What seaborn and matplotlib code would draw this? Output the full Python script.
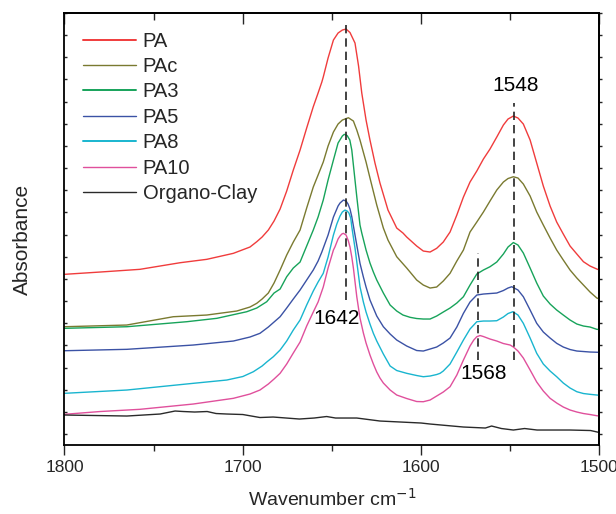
import numpy as np
import pandas as pd
import matplotlib
matplotlib.use("Agg")
import matplotlib.pyplot as plt
import seaborn as sns

# ---------------- data (wavenumber cm-1, absorbance a.u.) ----------------
pa_x = [1800, 1780, 1757.7, 1735.2, 1720.2, 1705.3, 1696.0, 1692.2, 1689.2, 1685.7, 1682.5, 1679.1,
        1675.4, 1671.7, 1667.9, 1664.2, 1660.5, 1657.8, 1655.7, 1654.9, 1652.2, 1649.2, 1646.6, 1644.2,
        1642.1, 1639.9, 1637.1, 1635.1, 1633.3, 1630.9, 1628.7, 1625.9, 1623.1, 1618.6, 1613.7, 1610.2,
        1608.1, 1602.5, 1598.8, 1595.0, 1591.3, 1587.6, 1585.6, 1583.8, 1580.0, 1576.3, 1572.6, 1568.8,
        1565.1, 1561.4, 1557.6, 1553.9, 1551.3, 1548.3, 1545.7, 1542.7, 1538.9, 1535.2, 1531.5, 1527.7,
        1524.0, 1520.3, 1516.5, 1512.7, 1509.0, 1505.3, 1501.5, 1500]
pa_y = [0.1757, 0.178, 0.1807, 0.1873, 0.1907, 0.1967, 0.203, 0.2083, 0.213, 0.220, 0.229, 0.241,
        0.259, 0.280, 0.300, 0.322, 0.3433, 0.357, 0.368, 0.373, 0.392, 0.410, 0.417, 0.420,
        0.421, 0.4175, 0.407, 0.384, 0.357, 0.330, 0.310, 0.287, 0.267, 0.240, 0.222, 0.217,
        0.213, 0.204, 0.199, 0.198, 0.2017, 0.208, 0.2133, 0.218, 0.235, 0.253, 0.268, 0.279,
        0.291, 0.301, 0.313, 0.325, 0.331, 0.334, 0.332, 0.326, 0.310, 0.287, 0.264, 0.244,
        0.228, 0.216, 0.204, 0.196, 0.1883, 0.184, 0.181, 0.180]

pac_x = [1800, 1765.1, 1739, 1720.2, 1703.4, 1696.0, 1692.2, 1689.2, 1685.7, 1682.5, 1679.1, 1675.4,
         1671.7, 1667.9, 1664.2, 1660.5, 1657.8, 1654.9, 1652.2, 1649.2, 1646.6, 1644.2, 1640.8, 1638.0,
         1636.1, 1634.3, 1630.9, 1628.7, 1624.9, 1621.2, 1618.6, 1613.7, 1608.1, 1602.5, 1598.8, 1595.0,
         1591.3, 1587.6, 1583.8, 1580.0, 1576.3, 1572.6, 1568.8, 1565.1, 1561.4, 1557.6, 1553.9, 1551.3,
         1548.3, 1545.7, 1542.7, 1538.9, 1535.2, 1531.5, 1527.7, 1524.0, 1520.3, 1516.5, 1512.7, 1509.0,
         1505.3, 1501.5, 1500]
pac_y = [0.1233, 0.125, 0.1333, 0.135, 0.139, 0.143, 0.1467, 0.151, 0.157, 0.167, 0.180, 0.195,
         0.208, 0.220, 0.242, 0.263, 0.275, 0.288, 0.304, 0.318, 0.326, 0.330, 0.3323, 0.329,
         0.320, 0.310, 0.288, 0.272, 0.245, 0.222, 0.210, 0.1933, 0.182, 0.170, 0.165, 0.162,
         0.163, 0.169, 0.1767, 0.189, 0.200, 0.218, 0.228, 0.238, 0.249, 0.260, 0.268, 0.2715,
         0.2733, 0.272, 0.266, 0.254, 0.238, 0.225, 0.212, 0.200, 0.190, 0.180, 0.172, 0.165,
         0.158, 0.152, 0.151]

pa3_x = [1800, 1765, 1731.5, 1714.6, 1697.8, 1692.2, 1686.6, 1682.5, 1679.1, 1675.4, 1671.7, 1667.9,
         1664.2, 1660.5, 1657.8, 1654.9, 1652.2, 1649.2, 1646.6, 1644.2, 1643.1, 1641.5, 1640.0, 1638.9,
         1638.0, 1636.1, 1634.3, 1633.3, 1630.9, 1628.7, 1626.8, 1624.9, 1621.2, 1617.4, 1613.7, 1610.2,
         1606.2, 1602.5, 1598.8, 1595.0, 1591.3, 1587.6, 1583.8, 1580.0, 1576.3, 1572.6, 1568.8, 1565.1,
         1561.4, 1557.6, 1553.9, 1551.3, 1548.3, 1545.7, 1542.7, 1538.9, 1535.2, 1531.5, 1527.7, 1524.0,
         1520.3, 1516.5, 1512.7, 1509.0, 1505.3, 1501.5, 1500]
pa3_y = [0.1217, 0.1233, 0.1283, 0.1317, 0.1383, 0.142, 0.1483, 0.157, 0.161, 0.1733, 0.182, 0.188,
         0.204, 0.220, 0.233, 0.250, 0.270, 0.290, 0.307, 0.314, 0.3157, 0.3145, 0.310, 0.300,
         0.285, 0.2533, 0.225, 0.217, 0.200, 0.187, 0.178, 0.170, 0.157, 0.145, 0.139, 0.135,
         0.1327, 0.1315, 0.131, 0.131, 0.134, 0.138, 0.142, 0.147, 0.1533, 0.165, 0.176, 0.180,
         0.1833, 0.188, 0.196, 0.203, 0.2075, 0.205, 0.197, 0.182, 0.167, 0.154, 0.146, 0.140,
         0.135, 0.130, 0.126, 0.124, 0.123, 0.1207, 0.1205]

pa5_x = [1800, 1765, 1727.8, 1705.3, 1696.0, 1690.4, 1685.7, 1682.5, 1679.1, 1675.4, 1671.7, 1667.9,
         1664.2, 1660.5, 1657.8, 1655.7, 1652.2, 1649.2, 1646.6, 1645.5, 1643.6, 1642.1, 1641.0, 1639.9,
         1638.9, 1637.1, 1634.3, 1632.4, 1630.9, 1628.7, 1624.9, 1621.2, 1617.4, 1613.7, 1608.1, 1602.5,
         1598.8, 1595.0, 1591.3, 1587.6, 1583.8, 1580.0, 1576.3, 1572.6, 1568.8, 1565.1, 1561.4, 1557.6,
         1553.9, 1551.3, 1549.2, 1545.7, 1542.7, 1538.9, 1535.2, 1531.5, 1527.7, 1524.0, 1520.3, 1516.5,
         1512.7, 1505.3, 1500]
pa5_y = [0.0993, 0.1007, 0.105, 0.109, 0.113, 0.1167, 0.123, 0.128, 0.1333, 0.142, 0.151, 0.160,
         0.170, 0.180, 0.189, 0.198, 0.215, 0.233, 0.244, 0.247, 0.250, 0.249, 0.246, 0.241,
         0.2333, 0.215, 0.1867, 0.173, 0.163, 0.150, 0.134, 0.1233, 0.116, 0.110, 0.104, 0.0995,
         0.099, 0.101, 0.103, 0.107, 0.112, 0.123, 0.1367, 0.148, 0.155, 0.156, 0.1565, 0.157,
         0.1595, 0.162, 0.1633, 0.160, 0.1533, 0.140, 0.1267, 0.118, 0.112, 0.1067, 0.103, 0.1005,
         0.099, 0.098, 0.0977]

pa8_x = [1800, 1765, 1727.8, 1709, 1700, 1694.1, 1689.2, 1686.6, 1682.9, 1679.1, 1675.4, 1671.7,
         1667.9, 1664.2, 1660.5, 1657.8, 1654.9, 1652.2, 1649.2, 1647.3, 1645.5, 1644.2, 1642.7, 1641.5,
         1640.5, 1639.5, 1638.9, 1637.1, 1634.3, 1632.4, 1630.9, 1628.7, 1626.8, 1624.9, 1621.2, 1617.4,
         1613.7, 1608.1, 1602.5, 1598.8, 1595.0, 1591.3, 1589.4, 1587.6, 1583.8, 1580.0, 1576.3, 1572.6,
         1568.8, 1565.1, 1561.4, 1557.6, 1553.9, 1551.3, 1548.6, 1545.7, 1542.7, 1538.9, 1535.2, 1531.5,
         1527.7, 1524.0, 1520.3, 1516.5, 1512.7, 1509.0, 1505.3, 1501.5, 1500]
pa8_y = [0.0567, 0.060, 0.0667, 0.070, 0.0735, 0.0783, 0.084, 0.088, 0.0933, 0.100, 0.109, 0.120,
         0.130, 0.145, 0.159, 0.168, 0.1767, 0.193, 0.215, 0.226, 0.234, 0.238, 0.240, 0.239,
         0.237, 0.232, 0.2233, 0.202, 0.1633, 0.148, 0.138, 0.126, 0.1167, 0.109, 0.096, 0.084,
         0.0795, 0.0767, 0.0745, 0.0733, 0.074, 0.0755, 0.0767, 0.079, 0.086, 0.098, 0.110, 0.121,
         0.1283, 0.129, 0.129, 0.1293, 0.133, 0.1365, 0.1383, 0.135, 0.1267, 0.112, 0.0967, 0.086,
         0.079, 0.0733, 0.067, 0.062, 0.0583, 0.0565, 0.0557, 0.055, 0.0547]

pa10_x = [1800, 1780, 1757.7, 1727.8, 1705.3, 1696.0, 1690.4, 1685.7, 1682.5, 1679.1, 1675.4, 1671.7,
          1667.9, 1664.2, 1660.5, 1657.8, 1654.9, 1652.2, 1649.2, 1648.3, 1646.6, 1645.5, 1644.5, 1643.6,
          1642.1, 1640.8, 1639.9, 1638.9, 1638.0, 1636.1, 1634.3, 1632.4, 1630.9, 1628.7, 1626.8, 1624.9,
          1623.1, 1621.2, 1617.4, 1613.7, 1608.1, 1602.5, 1598.8, 1595.0, 1591.3, 1587.6, 1583.8, 1580.0,
          1576.3, 1572.6, 1570.5, 1568.8, 1567.0, 1565.1, 1561.4, 1557.6, 1553.9, 1550.1, 1548.3, 1545.7,
          1542.7, 1538.9, 1535.2, 1531.5, 1527.7, 1524.0, 1520.3, 1516.5, 1512.7, 1509.0, 1505.3, 1501.5,
          1500]
pa10_y = [0.0357, 0.0385, 0.0407, 0.046, 0.0517, 0.056, 0.060, 0.066, 0.071, 0.0767, 0.086, 0.097,
          0.108, 0.124, 0.138, 0.148, 0.163, 0.182, 0.200, 0.2033, 0.211, 0.214, 0.216, 0.2167,
          0.215, 0.209, 0.203, 0.193, 0.182, 0.1533, 0.132, 0.117, 0.107, 0.095, 0.086, 0.078,
          0.072, 0.067, 0.060, 0.055, 0.0515, 0.0485, 0.0483, 0.050, 0.054, 0.058, 0.0633, 0.075,
          0.090, 0.104, 0.110, 0.1133, 0.1145, 0.1135, 0.111, 0.109, 0.1065, 0.105, 0.103, 0.099,
          0.092, 0.080, 0.068, 0.059, 0.0517, 0.047, 0.043, 0.040, 0.038, 0.0365, 0.0355, 0.0343,
          0.034]

clay_x = [1800, 1765, 1746.4, 1738, 1733.4, 1727, 1720, 1715, 1709, 1700, 1690.4, 1683, 1668.3, 1660,
          1653, 1648, 1636.1, 1623.1, 1600, 1595, 1576.3, 1564, 1560.5, 1555, 1548.3, 1542, 1535,
          1529.6, 1516.5, 1505, 1500]
clay_y = [0.035, 0.034, 0.036, 0.039, 0.0385, 0.038, 0.0385, 0.0365, 0.036, 0.0355, 0.0325, 0.033,
          0.031, 0.032, 0.0335, 0.032, 0.032, 0.029, 0.027, 0.026, 0.023, 0.022, 0.024, 0.0215, 0.020,
          0.0215, 0.020, 0.020, 0.020, 0.0195, 0.0175]

samples = ["PA", "PAc", "PA3", "PA5", "PA8", "PA10", "Organo-Clay"]
colors = ["#f03c3c", "#7a7a30", "#17a35a", "#3b52a5", "#19b5cf", "#e0509c", "#2a2a2a"]
series = [(pa_x, pa_y), (pac_x, pac_y), (pa3_x, pa3_y), (pa5_x, pa5_y),
          (pa8_x, pa8_y), (pa10_x, pa10_y), (clay_x, clay_y)]

peak_pos = [1642, 1548, 1568]
peak_lo = [0.150, 0.090, 0.090]
peak_hi = [0.427, 0.347, 0.197]
peak_lbl = ["1642", "1548", "1568"]
lbl_x = [1647.3, 1546.8, 1565]
lbl_y = [0.132, 0.365, 0.077]

# ---------------- plot ----------------
sns.set_style("ticks")
plt.rcParams['font.family'] = ['Liberation Sans', 'DejaVu Sans']

frames = []
for name, (xs, ys) in zip(samples, series):
    frames.append(pd.DataFrame({"wn": xs, "abs": ys, "sample": name}))
df = pd.concat(frames, ignore_index=True)

fig = plt.figure(figsize=(6.16, 5.14), dpi=100)
ax = fig.add_axes([0.1047, 0.1342, 0.8685, 0.8405])

sns.lineplot(data=df, x="wn", y="abs", hue="sample", hue_order=samples,
             palette=dict(zip(samples, colors)), sort=False, estimator=None,
             linewidth=1.0, ax=ax, legend=False)

for p, lo, hi in zip(peak_pos, peak_lo, peak_hi):
    ax.plot([p, p], [lo, hi], color="#222222", lw=1.2, ls=(0, (5, 3)))
for t, tx, ty in zip(peak_lbl, lbl_x, lbl_y):
    ax.text(tx, ty, t, ha="center", va="center", fontsize=15, color="black")

ax.set_xlim(1800, 1500)
ax.set_ylim(0.005, 0.437)
ax.set_xticks([1800, 1700, 1600, 1500])
ax.set_xticks([1750, 1650, 1550], minor=True)
ax.set_yticks(np.arange(0.016, 0.44, 0.02216))
ax.set_yticklabels([])
ax.tick_params(axis="x", which="major", direction="out", length=7, width=1.0,
               labelsize=12.5, pad=4, top=False)
ax.tick_params(axis="x", which="minor", direction="out", length=4, width=1.0, top=False)
ax.tick_params(axis="y", which="major", direction="in", length=2.5, width=1.0, right=False)

top = ax.secondary_xaxis("top")
top.set_xticks([1800, 1700, 1600, 1500])
top.set_xticks([1750, 1650, 1550], minor=True)
top.set_xticklabels([])
top.tick_params(axis="x", which="major", direction="in", length=8, width=1.0)
top.tick_params(axis="x", which="minor", direction="in", length=5, width=1.0)

right = ax.secondary_yaxis("right")
right.set_yticks(np.arange(0.016, 0.44, 0.02216))
right.set_yticklabels([])
right.tick_params(axis="y", which="major", direction="out", length=2.5, width=1.0)

for sp in list(ax.spines.values()) + [top.spines["top"], right.spines["right"]]:
    sp.set_linewidth(1.3)
    sp.set_color("black")

ax.set_xlabel("Wavenumber cm$^{-1}$", fontsize=14, labelpad=9)
ax.set_ylabel("Absorbance", fontsize=15)
ax.yaxis.set_label_coords(-0.06, 0.475)

handles = [plt.Line2D([], [], color=c, lw=1.4 if i % 2 == 0 and i < 6 else 1.0)
           for i, c in enumerate(colors)]
leg = ax.legend(handles, samples, loc="upper left", bbox_to_anchor=(0.0346, 0.957),
                frameon=False, fontsize=14.5, handlelength=2.63, handletextpad=0.33,
                labelspacing=0.32, borderaxespad=0.0, borderpad=0.0)

fig.savefig("out.png", dpi=100)
